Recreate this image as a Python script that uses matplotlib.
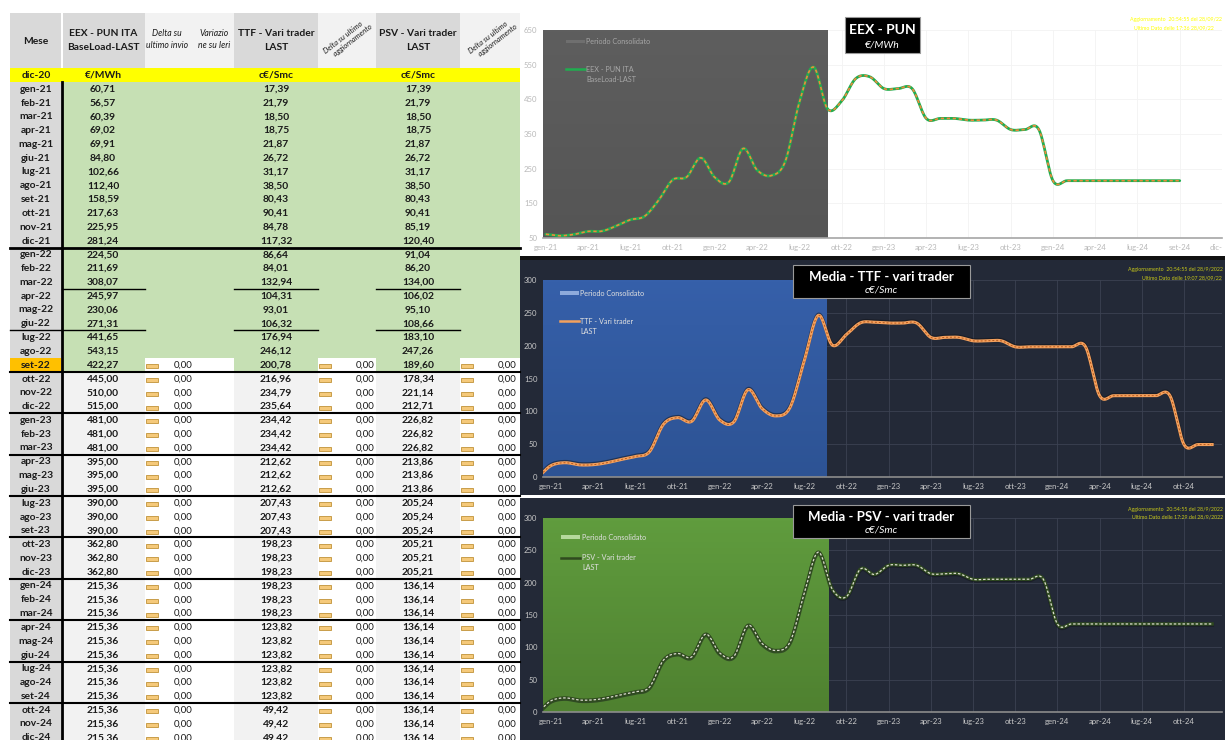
import numpy as np
import matplotlib
matplotlib.use("Agg")
import matplotlib.pyplot as plt
from matplotlib.patches import Rectangle

plt.rcParams['font.family'] = ['Lato', 'DejaVu Sans']

W, H = 1225, 740

# month labels gen-21 .. dic-24
month_names = ['gen', 'feb', 'mar', 'apr', 'mag', 'giu', 'lug', 'ago', 'set', 'ott', 'nov', 'dic']
months = [f"{m}-{y}" for y in (21, 22, 23, 24) for m in month_names]

eex = [60.71, 56.57, 60.39, 69.02, 69.91, 84.80, 102.66, 112.40, 158.59, 217.63, 225.95, 281.24,
       224.50, 211.69, 308.07, 245.97, 230.06, 271.31, 441.65, 543.15, 422.27, 445.00, 510.00, 515.00,
       481.00, 481.00, 481.00, 395.00, 395.00, 395.00, 390.00, 390.00, 390.00, 362.80, 362.80, 362.80,
       215.36, 215.36, 215.36, 215.36, 215.36, 215.36, 215.36, 215.36, 215.36, 215.36, 215.36, 215.36]
ttf = [17.39, 21.79, 18.50, 18.75, 21.87, 26.72, 31.17, 38.50, 80.43, 90.41, 84.78, 117.32,
       86.64, 84.01, 132.94, 104.31, 93.01, 106.32, 176.94, 246.12, 200.78, 216.96, 234.79, 235.64,
       234.42, 234.42, 234.42, 212.62, 212.62, 212.62, 207.43, 207.43, 207.43, 198.23, 198.23, 198.23,
       198.23, 198.23, 198.23, 123.82, 123.82, 123.82, 123.82, 123.82, 123.82, 49.42, 49.42, 49.42]
psv = [17.39, 21.79, 18.50, 18.75, 21.87, 26.72, 31.17, 38.50, 80.43, 90.41, 85.19, 120.40,
       91.04, 86.20, 134.00, 106.02, 95.10, 108.66, 183.10, 247.26, 189.60, 178.34, 221.14, 212.71,
       226.82, 226.82, 226.82, 213.86, 213.86, 213.86, 205.24, 205.24, 205.24, 205.21, 205.21, 205.21,
       136.14, 136.14, 136.14, 136.14, 136.14, 136.14, 136.14, 136.14, 136.14, 136.14, 136.14, 136.14]
# dic-20 value used as first point of the gas charts
gas_start = 0.0
# delta columns from set-22 on
delta_eex = [0.0] * 28
delta_ttf = [0.0] * 28
delta_psv = [0.0] * 28
first_open = 20  # set-22
eex_last_plotted = 45  # PUN chart stops at ott-24

ticks1 = ['gen-21', 'apr-21', 'lug-21', 'ott-21', 'gen-22', 'apr-22', 'lug-22', 'ott-22', 'gen-23',
          'apr-23', 'lug-23', 'ott-23', 'gen-24', 'apr-24', 'lug-24', 'set-24', 'dic-']
ticks2 = ['gen-21', 'apr-21', 'lug-21', 'ott-21', 'gen-22', 'apr-22', 'lug-22', 'ott-22', 'gen-23',
          'apr-23', 'lug-23', 'ott-23', 'gen-24', 'apr-24', 'lug-24', 'ott-24']


def fmt(v):
    return f"{v:.2f}".replace('.', ',')


def smooth(x, y, n=16):
    # excel style smoothed line (catmull-rom as bezier)
    x = np.asarray(x, float)
    y = np.asarray(y, float)
    xs, ys = [], []
    t = np.linspace(0, 1, n)
    for i in range(len(x) - 1):
        y0 = y[i - 1] if i > 0 else y[i]
        y3 = y[i + 2] if i + 2 < len(y) else y[i + 1]
        c1 = y[i] + (y[i + 1] - y0) / 6
        c2 = y[i + 1] - (y3 - y[i]) / 6
        b = (1 - t) ** 3 * y[i] + 3 * (1 - t) ** 2 * t * c1 + 3 * (1 - t) * t ** 2 * c2 + t ** 3 * y[i + 1]
        xs.append(x[i] + (x[i + 1] - x[i]) * t)
        ys.append(b)
    return np.concatenate(xs), np.concatenate(ys)


def px_axes(fig, x0, y0, x1, y1):
    return fig.add_axes([x0 / W, 1 - y1 / H, (x1 - x0) / W, (y1 - y0) / H])


fig = plt.figure(figsize=(W / 100, H / 100), dpi=100)

# ---------- background + table ----------
bg = fig.add_axes([0, 0, 1, 1])
bg.set_xlim(0, W)
bg.set_ylim(H, 0)
bg.axis('off')

cols = {'mese': (10, 61), 'eex': (62, 145), 'd1': (145, 234), 'ttf': (234, 318),
        'd2': (318, 376), 'psv': (376, 460), 'd3': (460, 520)}
head_col = {'mese': '#d9d9d9', 'eex': '#d9d9d9', 'd1': '#f2f2f2', 'ttf': '#d9d9d9',
            'd2': '#f2f2f2', 'psv': '#d9d9d9', 'd3': '#f2f2f2'}
for k, (a, b) in cols.items():
    bg.add_patch(Rectangle((a, 13), b - a, 55, fc=head_col[k], ec='none'))
bg.add_patch(Rectangle((61, 13), 1.5, 55, fc='white', ec='none'))

tk = dict(ha='center', va='center', fontsize=7.4, fontweight='bold', color='#1a1a1a')
bg.text(36, 41, 'Mese', **tk)
bg.text(103, 33, 'EEX - PUN ITA', **tk)
bg.text(103, 47, 'BaseLoad-LAST', **tk)
bg.text(276, 33, 'TTF - Vari trader', **tk)
bg.text(276, 47, 'LAST', **tk)
bg.text(418, 33, 'PSV - Vari trader', **tk)
bg.text(418, 47, 'LAST', **tk)
it = dict(ha='center', va='center', fontsize=6.2, fontstyle='italic', color='#1a1a1a')
bg.text(167, 34, 'Delta su', **it)
bg.text(167, 46, 'ultimo invio', **it)
bg.text(214, 34, 'Variazio', **it)
bg.text(214, 46, 'ne su Ieri', **it)
for cx in (346, 491):
    bg.text(cx, 40, 'Delta su ultimo\n      aggiornamento', ha='center', va='center', fontsize=5.4,
            fontstyle='italic', rotation=38, color='#1a1a1a', linespacing=1.1)

# yellow unit row
bg.add_patch(Rectangle((10, 68), 510, 14, fc='#ffff00', ec='none'))
bg.text(36, 75, 'dic-20', **tk)
bg.text(103, 75, '€/MWh', **tk)
bg.text(276, 75, 'c€/Smc', **tk)
bg.text(418, 75, 'c€/Smc', **tk)

row0, rh = 82, 13.8
for i, m in enumerate(months):
    top = row0 + i * rh
    cy = top + rh / 2 + 0.3
    bg.add_patch(Rectangle((10, top), 51, rh, fc='#ffc000' if i == first_open else '#d9d9d9', ec='none'))
    for k in ('eex', 'd1', 'ttf', 'd2', 'psv', 'd3'):
        a, b = cols[k]
        if i < first_open:
            c = '#c6e0b4'
        elif k.startswith('d'):
            c = 'white'
        elif i == first_open:
            c = '#c6e0b4'
        else:
            c = '#f2f2f2'
        bg.add_patch(Rectangle((a, top), b - a, rh, fc=c, ec='none'))
    bg.text(36, cy, m, **tk)
    bg.text(103, cy, fmt(eex[i]), **tk)
    bg.text(276, cy, fmt(ttf[i]), **tk)
    bg.text(418, cy, fmt(psv[i]), **tk)
    if i >= first_open:
        j = i - first_open
        for (ix, vx, dv) in ((146, 193, delta_eex[j]), (319, 374, delta_ttf[j]), (461, 517, delta_psv[j])):
            bg.add_patch(Rectangle((ix, cy - 1), 12, 4, fc='#f5c97a', ec='#c09238', lw=0.6))
            bg.text(vx, cy, fmt(dv), ha='right', va='center', fontsize=7, color='#1a1a1a')

bg.plot([61.5, 61.5], [row0, H], color='black', lw=2)
bg.plot([10, 520], [row0 + 12 * rh] * 2, color='black', lw=2)
for seg in ((62, 145), (234, 318), (376, 460)):
    bg.plot(seg, [row0 + 15 * rh] * 2, color='black', lw=1)
for seg in ((10, 145), (234, 318), (376, 460)):
    bg.plot(seg, [row0 + 18 * rh] * 2, color='black', lw=1)
for r in range(21, 48, 3):
    bg.plot([10, 520], [row0 + r * rh] * 2, color='black', lw=1.5)

# chart panels
bg.add_patch(Rectangle((520, 0), 705, 256, fc='white', ec='none'))
bg.add_patch(Rectangle((520, 256), 705, 4, fc='#111111', ec='none'))
bg.add_patch(Rectangle((520, 260), 705, 235, fc='#232937', ec='none'))
bg.add_patch(Rectangle((520, 495), 705, 3, fc='white', ec='none'))
bg.add_patch(Rectangle((520, 498), 705, 242, fc='#232937', ec='none'))


def gradient_rect(ax, x0, x1, y0, y1, top, bottom):
    c1 = np.array(matplotlib.colors.to_rgb(top))
    c2 = np.array(matplotlib.colors.to_rgb(bottom))
    g = np.linspace(0, 1, 64)[:, None]
    img = (c1[None, :] * (1 - g) + c2[None, :] * g)[:, None, :]
    ax.imshow(img, extent=[x0, x1, y0, y1], aspect='auto', origin='upper', zorder=1)


def style_axes(ax, xl, yl, yt, labels, grid_c, lab_c, spine_c):
    ax.set_facecolor('none')
    ax.set_axisbelow(True)
    ax.set_xlim(*xl)
    ax.set_ylim(*yl)
    ax.set_yticks(yt)
    ax.set_xticks(range(0, 3 * len(labels), 3))
    ax.set_xticklabels(labels)
    ax.tick_params(length=0, labelsize=5.6, colors=lab_c, pad=4)
    ax.grid(True, color=grid_c, lw=0.6)
    for s in ('top', 'right', 'left'):
        ax.spines[s].set_visible(False)
    ax.spines['bottom'].set_color(spine_c)
    ax.spines['bottom'].set_linewidth(1.2)
    ax.spines['bottom'].set_zorder(5)


# ---------- chart 1: EEX PUN ----------
ax1 = px_axes(fig, 543, 30, 1222, 238)
style_axes(ax1, (-0.2, 48.0), (50, 650), range(50, 651, 100), ticks1, '#f3f3f3', '#b8b8b8', '#a6a6a6')
ax1.get_xticklabels()[-1].set_ha('right')
gradient_rect(ax1, -0.2, 20.0, 50, 650, '#5e5e5e', '#555555')
x = np.arange(eex_last_plotted + 1)
sx, sy = smooth(x, eex[:eex_last_plotted + 1])
ax1.plot(sx, sy, color='#1fae4f', lw=2.0, zorder=3, solid_capstyle='round')
ax1.plot(sx, sy, color='#f0883a', lw=1.2, ls=(0, (2, 1.6)), zorder=4)

# ---------- chart 2: TTF ----------
ax2 = px_axes(fig, 543, 280, 1222, 477)
style_axes(ax2, (-0.57, 47.7), (0, 300), range(0, 301, 50), ticks2, '#3b4252', '#c8c8c8', '#8c8c8c')
gradient_rect(ax2, -0.57, 19.6, 0, 300, '#3660aa', '#2d5394')
x = np.arange(-1, len(ttf))
sx, sy = smooth(x, [gas_start] + ttf)
ax2.plot(sx, sy + 1.5, color='#111318', lw=2.6, alpha=0.5, zorder=2)
ax2.plot(sx, sy, color='#f4a15d', lw=2.2, zorder=3)
ax2.plot(sx, sy, color='#b85a1e', lw=0.7, ls=(0, (2, 2)), zorder=4)

# ---------- chart 3: PSV ----------
ax3 = px_axes(fig, 543, 518, 1222, 712)
style_axes(ax3, (-0.57, 47.7), (0, 300), range(0, 301, 50), ticks2, '#3b4252', '#c8c8c8', '#8c8c8c')
gradient_rect(ax3, -0.57, 19.7, 0, 300, '#609c3e', '#4f8130')
sx, sy = smooth(x, [gas_start] + psv)
ax3.plot(sx, sy - 1.5, color='#111318', lw=2.8, alpha=0.5, zorder=2)
ax3.plot(sx, sy, color='#2f4a1f', lw=2.4, zorder=3)
ax3.plot(sx, sy, color='#dcdcd0', lw=0.9, ls=(0, (2, 1.5)), zorder=4)

# ---------- overlay: titles, legends, notes ----------
ov = fig.add_axes([0, 0, 1, 1])
ov.set_xlim(0, W)
ov.set_ylim(H, 0)
ov.axis('off')
ov.patch.set_alpha(0)


def title_box(x0, y0, x1, y1, t1, t2, size):
    ov.add_patch(Rectangle((x0, y0), x1 - x0, y1 - y0, fc='black', ec='#9a9a9a', lw=0.8, zorder=10))
    cx = (x0 + x1) / 2
    ov.text(cx, y0 + (y1 - y0) * 0.36, t1, ha='center', va='center', color='white',
            fontsize=size, fontweight='bold', zorder=11)
    ov.text(cx, y0 + (y1 - y0) * 0.77, t2, ha='center', va='center', color='white',
            fontsize=7.5, fontstyle='italic', zorder=11)


title_box(845, 17, 920, 53, 'EEX - PUN', '€/MWh', 10)
title_box(793, 265, 970, 298, 'Media - TTF - vari trader', 'c€/Smc', 9.5)
title_box(793, 505, 970, 538, 'Media - PSV - vari trader', 'c€/Smc', 9.5)

nt = dict(ha='right', va='center', fontsize=3.8, zorder=11)
ov.text(1222, 20, 'Aggiornamento  20:54:55 del 28/09/22', color='#ffff00', **nt)
ov.text(1214, 28, 'Ultimo Dato delle 17:36 28/09/22', color='#ffff00', **nt)
ov.text(1223, 270, 'Aggiornamento  20:54:55 del 28/9/2022', color='#c5c51a', **nt)
ov.text(1222, 278, 'Ultimo Dato delle 19:07 28/09/22', color='#c5c51a', **nt)
ov.text(1223, 509, 'Aggiornamento  20:54:55 del 28/9/2022', color='#c5c51a', **nt)
ov.text(1223, 517, 'Ultimo Dato delle 17:29 del 28/9/2022', color='#c5c51a', **nt)

lt = dict(ha='left', va='center', fontsize=5.2, zorder=11)
# chart 1 legend
ov.add_patch(Rectangle((566, 40), 19, 3, fc='#6f6f6f', ec='none', zorder=10))
ov.text(586, 41.5, 'Periodo Consolidato', color='#a6a6a6', **lt)
ov.plot([566, 585], [69, 69], color='#1fae4f', lw=1.8, zorder=10)
ov.text(586, 69, 'EEX - PUN ITA', color='#a6a6a6', **lt)
ov.text(586, 79, 'BaseLoad-LAST', color='#a6a6a6', **lt)
# chart 2 legend
ov.add_patch(Rectangle((560, 291), 19, 3.5, fc='#8eaadb', ec='none', zorder=10))
ov.text(580, 293, 'Periodo Consolidato', color='#e0e0e0', **lt)
ov.plot([560, 579], [321, 321], color='#f4a15d', lw=1.8, zorder=10)
ov.text(580, 321, 'TTF - Vari trader', color='#e0e0e0', **lt)
ov.text(580, 331, 'LAST', color='#e0e0e0', **lt)
# chart 3 legend
ov.add_patch(Rectangle((561, 535), 19, 3.5, fc='#b5d99c', ec='none', zorder=10))
ov.text(582, 537, 'Periodo Consolidato', color='#e0e0e0', **lt)
ov.plot([561, 580], [558, 558], color='#2f4a1f', lw=1.8, zorder=10)
ov.text(582, 558, 'PSV - Vari trader', color='#e0e0e0', **lt)
ov.text(582, 568, 'LAST', color='#e0e0e0', **lt)

fig.savefig('out.png', dpi=100)
